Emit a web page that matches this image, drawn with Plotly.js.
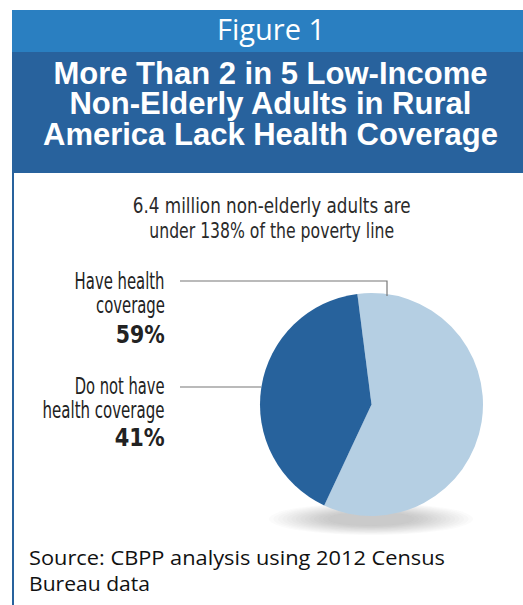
<!DOCTYPE html>
<html><head><meta charset="utf-8">
<script src="https://cdn.plot.ly/plotly-3.0.1.min.js"></script>
<style>html,body{margin:0;padding:0;background:#fff;overflow:hidden}#chart{width:523px;height:605px}</style>
</head><body><div id="chart"></div>
<script>
// ---- data ----
const categories = ["Have health coverage", "Do not have health coverage"];
const shares = [59, 41];
const labelLines = [["Have health", "coverage"], ["Do not have", "health coverage"]];
const sliceColors = ["#b5cfe3", "#27629c"];
const figureLabel = "Figure 1";
const titleLines = ["More Than 2 in 5 Low-Income", "Non-Elderly Adults in Rural", "America Lack Health Coverage"];
const subtitleLines = ["6.4 million non-elderly adults are", "under 138% of the poverty line"];
const sourceLines = ["Source: CBPP analysis using 2012 Census", "Bureau data"];

// ---- layout helpers (pixel -> paper) ----
const W = 523, H = 605;
const X = px => px / W;
const Y = py => 1 - py / H;

const narrow = "DejaVu Sans Condensed, Liberation Sans Narrow, Arial Narrow, sans-serif";
const ann = [];
const condense = []; // [annotation index, target width px, anchor]
function addText(text, x, yMid, opts, targetW) {
  ann.push(Object.assign({
    text: text, x: X(x), y: Y(yMid), xref: "paper", yref: "paper",
    showarrow: false, xanchor: "center", yanchor: "middle"
  }, opts));
  if (targetW) condense.push([ann.length - 1, targetW, (opts && opts.xanchor) || "center"]);
}

addText(figureLabel, 271, 29, {font: {family: "Open Sans, Liberation Sans, sans-serif", size: 29, color: "#ffffff"}});
// title: one text block, leading tightened after drawing
const titleLeading = 30.7;
addText(titleLines.map(t => "<b>" + t + "</b>").join("<br>"), 270, 104, {font: {family: "Liberation Sans, Arial, sans-serif", size: 31, color: "#ffffff"}});
const titleIdx = ann.length - 1;

const subMid = [206, 230];
const subW = [278, 245];
subtitleLines.forEach((t, i) => addText(t, 271, subMid[i], {font: {family: narrow, size: 22, color: "#2a2a2a"}}, subW[i]));

const labelMids = [[281, 305, 335], [386, 410, 438]];
const labelW = [[90, 69, 49], [90, 122, 50]];
labelLines.forEach((lines, k) => {
  lines.forEach((t, i) => addText(t, 167, labelMids[k][i], {xanchor: "right", font: {family: narrow, size: 22.5, color: "#222222"}}, labelW[k][i]));
  addText("<b>" + shares[k] + "%</b>", 167, labelMids[k][2], {xanchor: "right", font: {family: narrow, size: 24, color: "#222222"}}, labelW[k][2]);
});

const srcMid = [557, 583];
const srcW = [416, 121];
sourceLines.forEach((t, i) => addText(t, 27, srcMid[i], {xanchor: "left", font: {family: "Open Sans, Liberation Sans, sans-serif", size: 20, color: "#111111"}}, srcW[i]));

const shapes = [
  {type: "rect", xref: "paper", yref: "paper", x0: X(12), x1: X(523), y0: Y(52), y1: Y(10), fillcolor: "#2a7fc1", line: {width: 0}, layer: "below"},
  {type: "rect", xref: "paper", yref: "paper", x0: X(12), x1: X(523), y0: Y(173), y1: Y(52), fillcolor: "#28629d", line: {width: 0}, layer: "below"},
  {type: "rect", xref: "paper", yref: "paper", x0: X(12), x1: X(14), y0: Y(605), y1: Y(173), fillcolor: "#28629d", line: {width: 0}, layer: "below"},
  // leader lines
  {type: "path", xref: "paper", yref: "paper", path: `M ${X(180)} ${Y(281)} L ${X(387)} ${Y(281)} L ${X(387)} ${Y(296)}`, line: {color: "#777777", width: 1.2}},
  {type: "line", xref: "paper", yref: "paper", x0: X(180), x1: X(261), y0: Y(387), y1: Y(387), line: {color: "#777777", width: 1.2}}
];
// soft shadow under the pie (stacked translucent ellipses)
for (let i = 0; i < 14; i++) {
  const rx = 102 - i * 4.5, ry = 16 - i * 0.7;
  shapes.push({type: "circle", xref: "paper", yref: "paper",
    x0: X(371 - rx), x1: X(371 + rx), y0: Y(519 + ry), y1: Y(519 - ry),
    fillcolor: "rgba(80,80,80,0.024)", line: {width: 0}, layer: "below"});
}

const trace = {
  type: "pie", labels: categories, values: shares, sort: false, direction: "clockwise", rotation: -7.3,
  marker: {colors: sliceColors, line: {width: 0}}, textinfo: "none", hoverinfo: "label+percent",
  domain: {x: [X(260), X(483)], y: [Y(516), Y(293)]}, showlegend: false
};

Plotly.newPlot("chart", [trace], {
  width: W, height: H, margin: {l: 0, r: 0, t: 0, b: 0}, paper_bgcolor: "#ffffff",
  showlegend: false, annotations: ann, shapes: shapes
}, {displayModeBar: false, staticPlot: true}).then(gd => {
  // emulate the original typefaces' widths by horizontally scaling those texts
  condense.forEach(([idx, targetW, anchor]) => {
    const el = gd.querySelector('.annotation[data-index="' + idx + '"] .annotation-text');
    if (!el) return;
    const bb = el.getBBox();
    if (!bb.width) return;
    const s = targetW / bb.width;
    const ax = anchor === "right" ? bb.x + bb.width : anchor === "left" ? bb.x : bb.x + bb.width / 2;
    el.setAttribute("transform", `translate(${ax},0) scale(${s},1) translate(${-ax},0)`);
  });
  // tighten title leading, keep the block centred where Plotly put it
  const tEl = gd.querySelector('.annotation[data-index="' + titleIdx + '"] .annotation-text');
  if (tEl) {
    const b0 = tEl.getBBox();
    const c0 = b0.y + b0.height / 2;
    tEl.querySelectorAll("tspan.line").forEach((ts, i) => ts.setAttribute("dy", (i * titleLeading) + "px"));
    const b1 = tEl.getBBox();
    const c1 = b1.y + b1.height / 2;
    tEl.setAttribute("transform", `translate(0,${c0 - c1})`);
  }
});
</script></body></html>
